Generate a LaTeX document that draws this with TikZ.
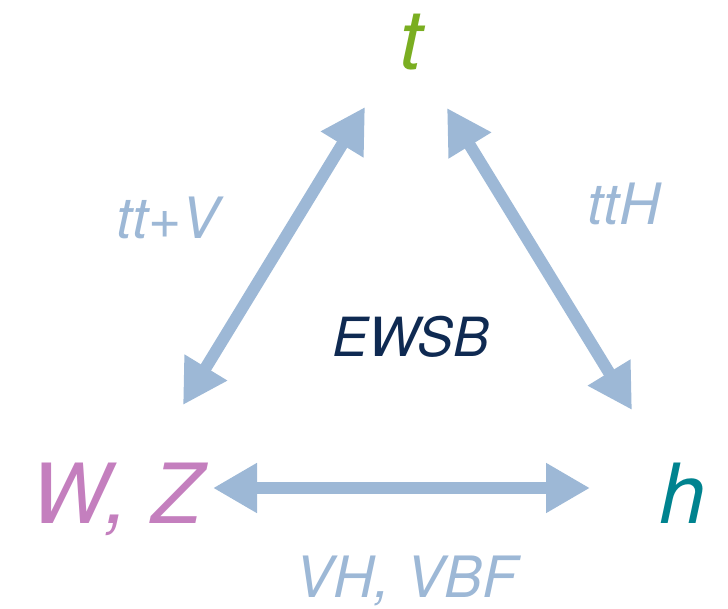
\documentclass[tikz,border=0pt]{standalone}
\usepackage{fontspec}
\setmainfont{TeX Gyre Heros}
\usetikzlibrary{arrows.meta}
\definecolor{tgreen}{HTML}{7AAE21}
\definecolor{wzpink}{HTML}{C47FBE}
\definecolor{hteal}{HTML}{00838F}
\definecolor{arrblue}{HTML}{9DB8D6}
\definecolor{navy}{HTML}{0F2A52}
\tikzset{
  big/.style={font=\fontsize{83}{83}\selectfont\itshape, inner sep=0pt, anchor=base},
  lbl/.style={font=\fontsize{57}{57}\selectfont\itshape, text=arrblue, inner sep=0pt, anchor=base},
  conn/.style={draw=arrblue, line width=12pt, {Triangle[length=44pt,width=47pt]}-{Triangle[length=44pt,width=47pt]}, shorten <=0pt, shorten >=0pt},
}
\begin{document}
\begin{tikzpicture}[x=1pt,y=-1pt]
\useasboundingbox (0,0) rectangle (728,609);
\node[big, text=tgreen] (t) at (411,70) {t};
\node[big, text=wzpink] (wz) at (117,523) {W, Z};
\node[big, text=hteal] (h) at (683,523) {h};
\node[lbl] (ttv) at (168,239) {tt+V};
\node[lbl] (tth) at (624,225) {ttH};
\node[lbl] (vh) at (406,597) {VH, VBF};
\node[font=\fontsize{54}{54}\selectfont\itshape, text=navy, inner sep=0pt, anchor=base] (ewsb) at (411,357) {EWSB};
\coordinate (a1) at (183,405);
\coordinate (a2) at (365,107);
\coordinate (b1) at (447,108);
\coordinate (b2) at (632,410);
\coordinate (c1) at (213,488);
\coordinate (c2) at (590,488);
\draw[conn] (a1) -- (a2);
\draw[conn] (b1) -- (b2);
\draw[conn] (c1) -- (c2);
\end{tikzpicture}
\end{document}
